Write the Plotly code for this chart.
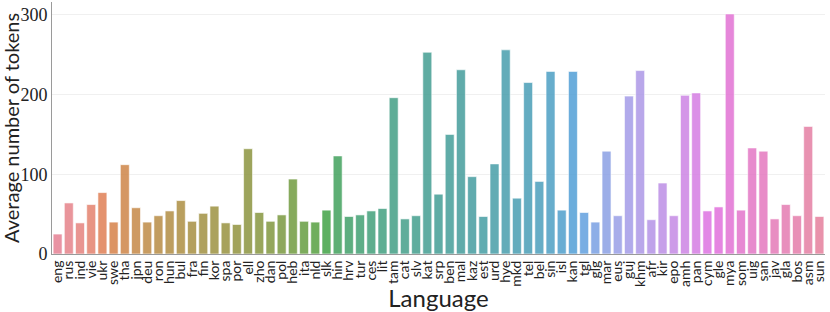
import math
import colorsys
import plotly.graph_objects as go

languages = ["eng", "rus", "ind", "vie", "ukr", "swe", "tha", "jpn", "deu", "ron",
             "hun", "bul", "fra", "fin", "kor", "spa", "por", "ell", "zho", "dan",
             "pol", "heb", "ita", "nld", "slk", "hin", "hrv", "tur", "ces", "lit",
             "tam", "cat", "slv", "kat", "srp", "ben", "mal", "kaz", "est", "urd",
             "hye", "mkd", "tel", "bel", "sin", "isl", "kan", "tgl", "glg", "mar",
             "eus", "guj", "khm", "afr", "kir", "epo", "amh", "pan", "cym", "gle",
             "mya", "som", "uig", "san", "jav", "gla", "bos", "asm", "sun"]

avg_tokens = [25, 64, 39, 62, 77, 40, 112, 58, 40, 48,
              54, 67, 41, 51, 60, 39, 37, 132, 52, 41,
              49, 94, 41, 40, 55, 123, 47, 49, 54, 57,
              196, 44, 48, 253, 75, 150, 231, 97, 47, 113,
              256, 70, 215, 91, 229, 55, 229, 52, 40, 129,
              48, 198, 230, 43, 89, 48, 199, 202, 54, 59,
              301, 55, 133, 129, 44, 62, 48, 160, 47]

y_ticks = [0, 100, 200, 300]

# ---- HUSL palette (seaborn-style) ----
_m = [[3.2406, -1.5372, -0.4986], [-0.9689, 1.8758, 0.0415], [0.0557, -0.2040, 1.0570]]
_refU, _refV = 0.19784, 0.46834
_lab_e, _lab_k = 0.008856, 903.3


def _max_chroma(L, H):
    hrad = math.radians(H)
    sinH, cosH = math.sin(hrad), math.cos(hrad)
    sub1 = (L + 16) ** 3 / 1560896.0
    sub2 = sub1 if sub1 > _lab_e else L / _lab_k
    result = float("inf")
    for m1, m2, m3 in _m:
        top = (0.99915 * m1 + 1.05122 * m2 + 1.14460 * m3) * sub2
        rbottom = 0.86330 * m3 - 0.17266 * m2
        lbottom = 0.12949 * m3 - 0.38848 * m1
        bottom = (rbottom * sinH + lbottom * cosH) * sub2
        for t in (0.0, 1.0):
            C = L * (top - 1.05122 * t) / (bottom + 0.17266 * sinH * t)
            if 0.0 < C < result:
                result = C
    return result


def _from_linear(c):
    if c <= 0.0031308:
        return 12.92 * c
    return 1.055 * c ** (1 / 2.4) - 0.055


def husl_to_rgb(H, S, L):
    C = _max_chroma(L, H) / 100.0 * S
    hrad = math.radians(H)
    U, V = math.cos(hrad) * C, math.sin(hrad) * C
    t = (L + 16) / 116.0
    Y = t ** 3 if t ** 3 > _lab_e else (116 * t - 16) / _lab_k
    varU = U / (13 * L) + _refU
    varV = V / (13 * L) + _refV
    X = 0 - (9 * Y * varU) / ((varU - 4) * varV - varU * varV)
    Z = (9 * Y - 15 * varV * Y - varV * X) / (3 * varV)
    rgb = [_from_linear(r[0] * X + r[1] * Y + r[2] * Z) for r in _m]
    return [min(max(c, 0.0), 1.0) for c in rgb]


def husl_palette(n, h=0.01, s=0.9, l=0.65, desat=0.75):
    out = []
    for i in range(n):
        hue = ((i / n + h) % 1) * 359
        r, g, b = husl_to_rgb(hue, s * 99, l * 99)
        hh, ll, ss = colorsys.rgb_to_hls(r, g, b)
        r, g, b = colorsys.hls_to_rgb(hh, ll, ss * desat)
        out.append("rgb(%d,%d,%d)" % (round(r * 255), round(g * 255), round(b * 255)))
    return out


colors = husl_palette(len(languages))

fig = go.Figure(go.Bar(
    x=languages,
    y=avg_tokens,
    opacity=0.85,
    marker=dict(color=colors, line=dict(color="rgba(255,255,255,0.6)", width=1)),
))

fig.update_layout(
    width=830, height=312,
    margin=dict(l=52, r=5, t=2, b=58),
    paper_bgcolor="white", plot_bgcolor="white",
    bargap=0.2,
    showlegend=False,
    annotations=[dict(
        text="Average number of tokens", textangle=-90,
        xref="paper", yref="paper", x=0, y=0.5, xshift=-41,
        xanchor="center", yanchor="middle", showarrow=False,
        font=dict(family="Lato", size=20, color="#222"),
    )],
)
fig.update_xaxes(
    automargin=False,
    range=[-0.5, len(languages) - 0.5],
    tickmode="linear", dtick=1,
    tickangle=-90,
    tickfont=dict(family="Lato", size=14, color="#222"),
    showline=True, linecolor="#9a9a9a", linewidth=1,
    ticks="", showgrid=False,
    title=dict(text="Language", font=dict(family="Lato", size=24, color="#222"), standoff=0),
)
fig.update_yaxes(
    automargin=False,
    range=[0, 316],
    tickvals=y_ticks,
    tickfont=dict(family="Liberation Serif", size=18, color="#222"),
    showline=True, linecolor="#9a9a9a", linewidth=1,
    ticks="", showgrid=True, gridcolor="#f0f0f0", zeroline=False,
)

fig.write_html("out.html", config={"displayModeBar": False},
               post_script="document.body.style.margin='0';")
